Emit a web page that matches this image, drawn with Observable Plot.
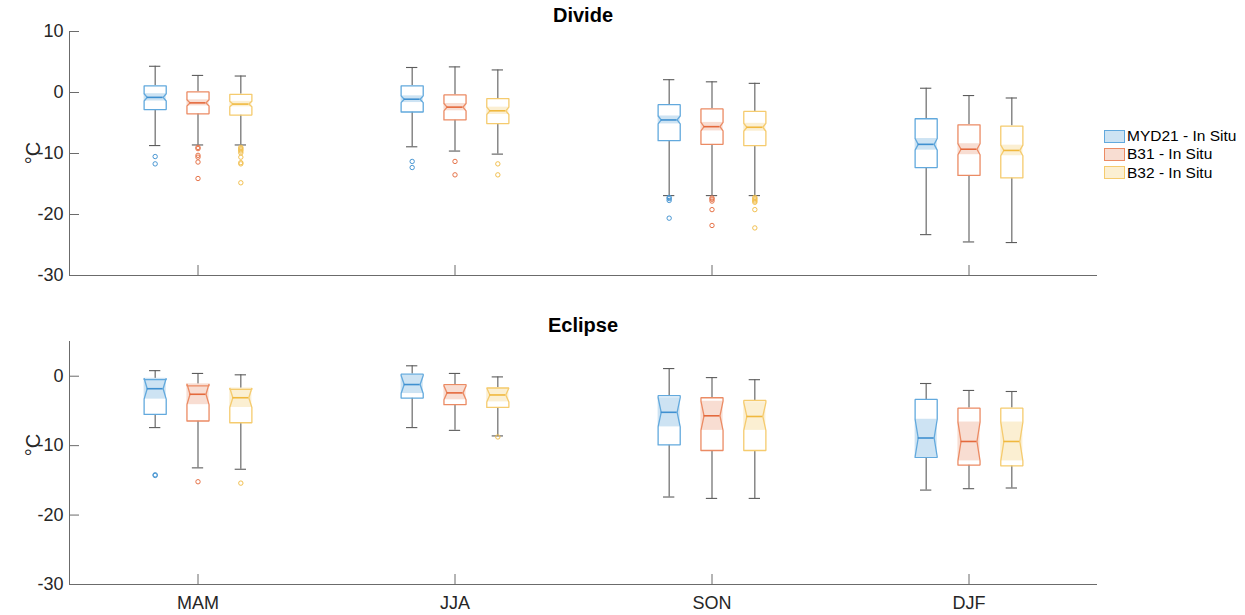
<!DOCTYPE html>
<html>
<head>
<meta charset="utf-8">
<script src="https://cdn.jsdelivr.net/npm/d3@7"></script>
<script src="https://cdn.jsdelivr.net/npm/@observablehq/plot@0.6"></script>
<style>
  body { margin: 0; background: #fff; font-family: "Liberation Sans", Arial, Helvetica, sans-serif; }
  #chart { position: relative; width: 1245px; height: 615px; overflow: hidden; }
  .panel { position: absolute; left: 0; }
  .title { position: absolute; left: 69px; width: 1028px; text-align: center; font-weight: bold; font-size: 20px; line-height: 24px; color: #000; }
  .ylab { position: absolute; width: 60px; height: 24px; line-height: 24px; text-align: center; font-size: 20px; color: #262626; transform: rotate(-90deg); }
  .legend { position: absolute; left: 1104px; top: 127px; font-size: 15.5px; color: #000; }
  .legend .row { display: flex; align-items: center; height: 18.3px; }
  .legend .sw { width: 19px; height: 11px; margin-right: 2px; border: 1.2px solid; }
</style>
</head>
<body>
<div id="chart"></div>
<script>
// Seasons on the x axis and the three temperature differences compared in each
const seasons = ["MAM", "JJA", "SON", "DJF"];
const seriesNames = ["MYD21 - In Situ", "B31 - In Situ", "B32 - In Situ"];

// Series colours: box outline, median line, notch shading, outliers
const outlineColors = ["#62a9dd", "#eb8b64", "#f5cb6e"];
const medianColors  = ["#3f90d0", "#e4693c", "#f0b83e"];
const shadeColors   = ["#cde3f3", "#f8ddd2", "#fbefd2"];
const outlierColors = ["#4a97d3", "#e6744a", "#f2c050"];

// Divide site (°C). Rows: MYD21, B31, B32; columns: MAM, JJA, SON, DJF
const divideWhiskerHigh = [[4.3, 4.1, 2.1, 0.7], [2.8, 4.2, 1.75, -0.5], [2.7, 3.7, 1.5, -0.9]];
const divideQ3          = [[1.1, 1.1, -2.0, -4.3], [0.1, -0.4, -2.7, -5.3], [-0.3, -1.0, -3.1, -5.5]];
const divideMedian      = [[-0.8, -1.1, -4.5, -8.5], [-1.7, -2.4, -5.6, -9.3], [-1.9, -3.0, -5.7, -9.5]];
const divideQ1          = [[-2.8, -3.2, -7.9, -12.3], [-3.5, -4.5, -8.5, -13.6], [-3.7, -5.1, -8.7, -14.0]];
const divideWhiskerLow  = [[-8.7, -8.9, -16.9, -23.3], [-8.6, -9.6, -16.9, -24.5], [-8.6, -10.1, -16.9, -24.6]];
const divideNotch       = [[0.6, 0.55, 0.65, 0.95], [0.5, 0.6, 0.7, 0.9], [0.45, 0.6, 0.65, 0.87]];
const divideOutliers = [
  [[-10.5, -11.7], [-11.3, -12.3], [-17.2, -17.4, -17.7, -20.6], []],
  [[-9.0, -9.2, -10.3, -10.6, -11.4, -14.1], [-11.3, -13.5], [-17.3, -17.5, -17.8, -19.2, -21.8], []],
  [[-9.0, -9.2, -9.4, -9.6, -9.9, -10.6, -11.5, -11.7, -14.8], [-11.7, -13.5], [-17.2, -17.4, -17.6, -17.8, -18.0, -19.2, -22.2], []]
];

// Eclipse site (°C)
const eclipseWhiskerHigh = [[0.8, 1.5, 1.1, -1.05], [0.4, 0.4, -0.2, -2.05], [0.2, -0.1, -0.5, -2.2]];
const eclipseQ3          = [[-0.5, 0.3, -2.8, -3.35], [-1.4, -1.2, -3.1, -4.6], [-1.9, -1.7, -3.5, -4.6]];
const eclipseMedian      = [[-1.8, -1.2, -5.2, -8.9], [-2.6, -2.4, -5.7, -9.4], [-3.1, -2.7, -5.8, -9.4]];
const eclipseQ1          = [[-5.5, -3.15, -9.9, -11.7], [-6.45, -4.1, -10.7, -12.8], [-6.7, -4.5, -10.7, -12.9]];
const eclipseWhiskerLow  = [[-7.4, -7.4, -17.4, -16.4], [-13.2, -7.8, -17.6, -16.2], [-13.4, -8.6, -17.6, -16.1]];
const eclipseNotch       = [[1.5, 1.3, 2.1, 2.7], [1.5, 1.0, 2.1, 2.8], [1.4, 1.0, 2.0, 2.8]];
const eclipseOutliers = [
  [[-14.2, -14.3], [], [], []],
  [[-15.2], [], [], []],
  [[-15.4], [-8.75], [], []]
];

// Axis ticks
const divideYTicks = [-30, -20, -10, 0, 10];
const eclipseYTicks = [-30, -20, -10, 0];
const seasonTicks = [1, 2, 3, 4];

// Geometry in x-axis units (one season = 1 unit)
const groupOffsets = [-1 / 6, 0, 1 / 6];
const boxHalf = 0.043, capHalf = 0.022, notchInset = 0.012;
const axisColor = "#6b6b6b", whiskerColor = "#5c5c5c";

function buildRows(site) {
  const boxes = [], outline = [], points = [];
  seriesNames.forEach((s, j) => seasons.forEach((season, i) => {
    const x = i + 1 + groupOffsets[j];
    const med = site.median[j][i], half = site.notch[j][i];
    const b = {
      j, x, hi: site.hi[j][i], q3: site.q3[j][i], med, q1: site.q1[j][i], lo: site.lo[j][i],
      nlo: med - half, nhi: med + half
    };
    boxes.push(b);
    const L = x - boxHalf, R = x + boxHalf, id = s + "|" + season;
    [[L, b.q1], [L, b.nlo], [L + notchInset, med], [L, b.nhi], [L, b.q3],
     [R, b.q3], [R, b.nhi], [R - notchInset, med], [R, b.nlo], [R, b.q1], [L, b.q1]]
      .forEach(([px, py]) => outline.push({id, j, x: px, y: py}));
    site.outliers[j][i].forEach(v => points.push({j, x, y: v}));
  }));
  return {boxes, outline, points};
}

function panel(site, {domain, yTicks, height, marginTop, marginBottom, xLabels}) {
  const marginLeft = 69, marginRight = 148, width = 1245;
  const frameW = width - marginLeft - marginRight;
  const frameH = height - marginTop - marginBottom;
  const {boxes, outline, points} = buildRows(site);
  return Plot.plot({
    width, height, marginLeft, marginRight, marginTop, marginBottom,
    style: {fontFamily: "'Liberation Sans', Arial, Helvetica, sans-serif", fontSize: "18px", color: "#262626", background: "transparent"},
    x: xLabels
      ? {type: "linear", domain: [0.5, 4.5], ticks: seasonTicks, tickFormat: d => seasons[d - 1], tickSize: 0, tickPadding: 12, label: null}
      : {type: "linear", domain: [0.5, 4.5], axis: null},
    y: {domain, ticks: yTicks, tickFormat: d => String(d), tickSize: 0, tickPadding: 6, label: null},
    marks: [
      // axis lines and inward ticks
      Plot.ruleY([domain[0]], {stroke: axisColor, strokeWidth: 1}),
      Plot.ruleX([0.5], {stroke: axisColor, strokeWidth: 1}),
      Plot.tickY(yTicks, {y: d => d, stroke: axisColor, insetRight: frameW - 10}),
      Plot.tickX(seasonTicks, {x: d => d, stroke: axisColor, insetTop: frameH - 10}),
      // whiskers and caps
      Plot.ruleX(boxes, {x: "x", y1: "q3", y2: "hi", stroke: whiskerColor, strokeWidth: 1.1}),
      Plot.ruleX(boxes, {x: "x", y1: "q1", y2: "lo", stroke: whiskerColor, strokeWidth: 1.1}),
      Plot.ruleY(boxes, {y: "hi", x1: d => d.x - capHalf, x2: d => d.x + capHalf, stroke: whiskerColor, strokeWidth: 1.1}),
      Plot.ruleY(boxes, {y: "lo", x1: d => d.x - capHalf, x2: d => d.x + capHalf, stroke: whiskerColor, strokeWidth: 1.1}),
      // white box body, then the shaded notch interval
      Plot.rect(boxes, {x1: d => d.x - boxHalf, x2: d => d.x + boxHalf, y1: "q1", y2: "q3", fill: "#fff"}),
      Plot.rect(boxes, {x1: d => d.x - boxHalf, x2: d => d.x + boxHalf, y1: "nlo", y2: "nhi", fill: d => shadeColors[d.j]}),
      // notched box outline
      Plot.line(outline, {x: "x", y: "y", z: "id", stroke: d => outlineColors[d.j], strokeWidth: 1.3, strokeLinejoin: "miter", curve: "linear"}),
      // medians
      Plot.ruleY(boxes, {y: "med", x1: d => d.x - boxHalf + notchInset, x2: d => d.x + boxHalf - notchInset, stroke: d => medianColors[d.j], strokeWidth: 1.6}),
      // outliers
      Plot.dot(points, {x: "x", y: "y", r: 2.2, stroke: d => outlierColors[d.j], strokeWidth: 1, fill: "none"})
    ]
  });
}

const divide = {
  hi: divideWhiskerHigh, q3: divideQ3, median: divideMedian, q1: divideQ1, lo: divideWhiskerLow,
  notch: divideNotch, outliers: divideOutliers
};
const eclipse = {
  hi: eclipseWhiskerHigh, q3: eclipseQ3, median: eclipseMedian, q1: eclipseQ1, lo: eclipseWhiskerLow,
  notch: eclipseNotch, outliers: eclipseOutliers
};

const chart = document.getElementById("chart");

const dividePanel = panel(divide, {domain: [-30, 10], yTicks: divideYTicks, height: 300, marginTop: 31, marginBottom: 25, xLabels: false});
dividePanel.classList.add("panel");
dividePanel.style.top = "0px";
chart.appendChild(dividePanel);

const eclipsePanel = panel(eclipse, {domain: [-30, 5], yTicks: eclipseYTicks, height: 315, marginTop: 41, marginBottom: 31, xLabels: true});
eclipsePanel.classList.add("panel");
eclipsePanel.style.top = "300px";
chart.appendChild(eclipsePanel);

// titles and y-axis labels
function addDiv(cls, text, css) {
  const d = document.createElement("div");
  d.className = cls;
  d.textContent = text;
  Object.assign(d.style, css);
  chart.appendChild(d);
  return d;
}
addDiv("title", "Divide", {top: "3px"});
addDiv("title", "Eclipse", {top: "313px"});
addDiv("ylab", "°C", {left: "3px", top: "141px"});
addDiv("ylab", "°C", {left: "3px", top: "433px"});

// legend
const legend = document.createElement("div");
legend.className = "legend";
seriesNames.forEach((s, j) => {
  const row = document.createElement("div");
  row.className = "row";
  const sw = document.createElement("span");
  sw.className = "sw";
  sw.style.background = shadeColors[j];
  sw.style.borderColor = outlineColors[j];
  const label = document.createElement("span");
  label.textContent = s;
  row.appendChild(sw);
  row.appendChild(label);
  legend.appendChild(row);
});
chart.appendChild(legend);
</script>
</body>
</html>
